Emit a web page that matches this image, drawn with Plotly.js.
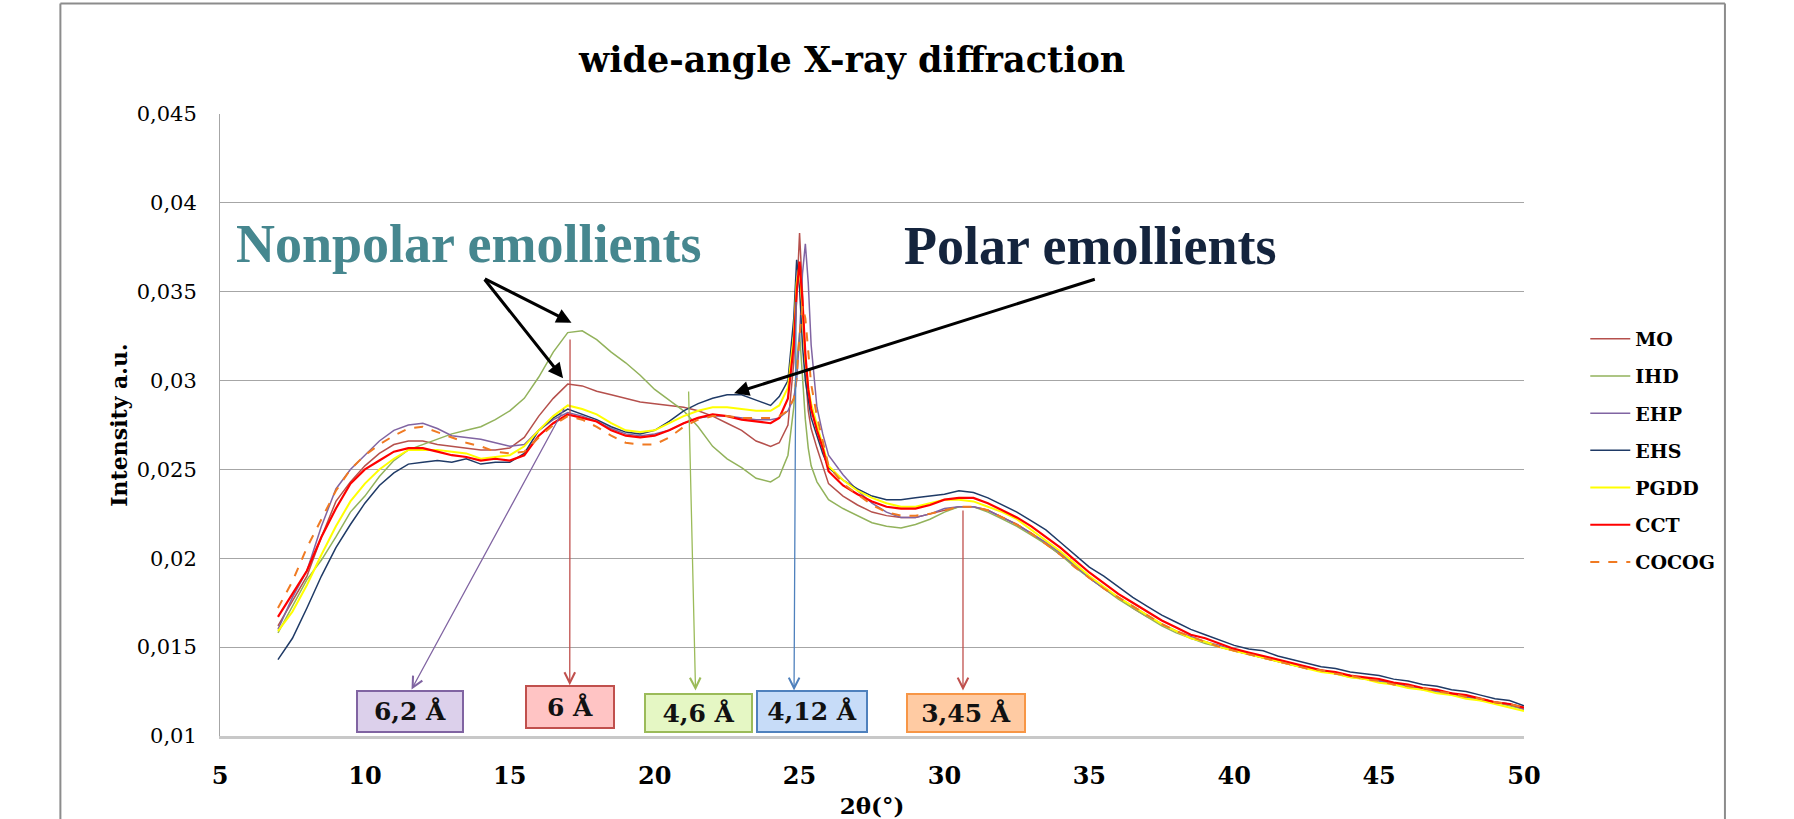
<!DOCTYPE html>
<html>
<head>
<meta charset="utf-8">
<script src="https://cdn.plot.ly/plotly-3.0.1.min.js"></script>
<style>
html,body{margin:0;padding:0;background:#fff;}
#chart{width:1794px;height:819px;}
</style>
</head>
<body>
<div id="chart"></div>
<script>
// 2θ positions (degrees)
const twoTheta = [7,7.5,8,8.5,9,9.5,10,10.5,11,11.5,12,12.5,13,13.5,14,14.5,15,15.5,16,16.5,17,17.5,18,18.5,19,19.5,20,20.5,21,21.5,22,22.5,23,23.5,24,
24.3,24.6,24.8,24.9,25,25.1,25.2,25.3,25.4,25.6,25.8,
26,26.5,27,27.5,28,28.5,29,29.5,30,30.5,31,31.5,32,32.5,33,33.5,34,34.5,35,35.5,36,36.5,37,37.5,38,38.5,39,39.5,40,40.5,41,41.5,42,42.5,43,43.5,44,44.5,45,45.5,46,46.5,47,47.5,48,48.5,49,49.5,50];

const seriesNames = ['MO','IHD','EHP','EHS','PGDD','CCT','COCOG'];

const MO = [0.0162,0.0176,0.0190,0.0212,0.0232,0.0243,0.0252,0.0259,0.0264,0.0266,0.0266,0.0264,0.0263,0.0262,0.0261,0.0261,0.0262,0.0268,0.0280,0.0290,0.0298,0.0297,0.0294,0.0292,0.0290,0.0288,0.0287,0.0286,0.0285,0.0283,0.0280,0.0276,0.0272,0.0266,0.0263,
0.0265,0.0275,0.0310,0.0350,0.0383,0.0350,0.0305,0.0283,0.0273,0.0262,0.0252,
0.0242,0.0235,0.0230,0.0226,0.0224,0.0223,0.0223,0.0225,0.0227,0.0229,0.0229,0.0227,0.0223,0.0219,0.0214,0.0208,0.0202,0.0196,0.0189,0.0183,0.0178,0.0172,0.0167,0.0163,0.0159,0.0155,0.0153,0.0150,0.0148,0.0146,0.0144,0.0142,0.0140,0.0138,0.0137,0.0135,0.0134,0.0132,0.0131,0.0129,0.0128,0.0127,0.0125,0.0124,0.0122,0.0121,0.0119,0.0118,0.0116];

const IHD = [0.0158,0.0173,0.0188,0.0199,0.0212,0.0226,0.0235,0.0246,0.0255,0.0261,0.0264,0.0267,0.0270,0.0272,0.0274,0.0278,0.0283,0.0290,0.0302,0.0316,0.0327,0.0328,0.0323,0.0316,0.0310,0.0303,0.0295,0.0289,0.0283,0.0274,0.0263,0.0256,0.0251,0.0245,0.0243,
0.0246,0.0258,0.0285,0.0310,0.0327,0.0305,0.0278,0.0262,0.0252,0.0243,0.0238,
0.0233,0.0228,0.0224,0.0220,0.0218,0.0217,0.0219,0.0222,0.0226,0.0229,0.0229,0.0226,0.0222,0.0218,0.0213,0.0208,0.0202,0.0195,0.0189,0.0183,0.0177,0.0172,0.0167,0.0162,0.0158,0.0155,0.0152,0.0150,0.0148,0.0146,0.0144,0.0142,0.0140,0.0138,0.0137,0.0135,0.0133,0.0132,0.0131,0.0129,0.0128,0.0126,0.0125,0.0123,0.0122,0.0120,0.0119,0.0117,0.0115];

const EHP = [0.0160,0.0178,0.0193,0.0218,0.0239,0.0250,0.0258,0.0266,0.0272,0.0275,0.0276,0.0273,0.0269,0.0268,0.0267,0.0265,0.0263,0.0264,0.0272,0.0278,0.0282,0.0280,0.0277,0.0273,0.0270,0.0269,0.0270,0.0272,0.0276,0.0279,0.0280,0.0280,0.0279,0.0278,0.0278,
0.0279,0.0283,0.0290,0.0300,0.0325,0.0360,0.0377,0.0355,0.0320,0.0285,0.0270,
0.0258,0.0247,0.0238,0.0231,0.0226,0.0223,0.0223,0.0225,0.0228,0.0229,0.0229,0.0227,0.0223,0.0219,0.0214,0.0209,0.0203,0.0196,0.0189,0.0183,0.0178,0.0173,0.0168,0.0163,0.0159,0.0156,0.0153,0.0151,0.0148,0.0146,0.0144,0.0142,0.0140,0.0139,0.0137,0.0135,0.0134,0.0132,0.0131,0.0130,0.0128,0.0127,0.0125,0.0124,0.0122,0.0121,0.0119,0.0118,0.0115];

const EHS = [0.0143,0.0155,0.0172,0.0190,0.0206,0.0219,0.0231,0.0241,0.0248,0.0253,0.0254,0.0255,0.0254,0.0256,0.0253,0.0254,0.0254,0.0259,0.0272,0.0279,0.0284,0.0281,0.0278,0.0274,0.0271,0.0270,0.0272,0.0277,0.0283,0.0287,0.0290,0.0292,0.0292,0.0289,0.0286,
0.0291,0.0300,0.0335,0.0368,0.0352,0.0320,0.0300,0.0288,0.0279,0.0269,0.0259,
0.0251,0.0244,0.0239,0.0235,0.0233,0.0233,0.0234,0.0235,0.0236,0.0238,0.0237,0.0234,0.0230,0.0226,0.0221,0.0216,0.0209,0.0202,0.0195,0.0190,0.0184,0.0178,0.0173,0.0168,0.0164,0.0160,0.0157,0.0154,0.0151,0.0149,0.0148,0.0145,0.0143,0.0141,0.0139,0.0138,0.0136,0.0135,0.0134,0.0132,0.0131,0.0129,0.0128,0.0126,0.0125,0.0123,0.0121,0.0120,0.0117];

const PGDD = [0.0159,0.0170,0.0185,0.0202,0.0218,0.0232,0.0242,0.0250,0.0256,0.0261,0.0261,0.0261,0.0260,0.0259,0.0256,0.0257,0.0258,0.0263,0.0272,0.0280,0.0286,0.0284,0.0281,0.0276,0.0272,0.0271,0.0272,0.0276,0.0280,0.0283,0.0285,0.0285,0.0284,0.0283,0.0283,
0.0286,0.0296,0.0325,0.0355,0.0365,0.0340,0.0312,0.0296,0.0287,0.0275,0.0264,
0.0252,0.0244,0.0238,0.0234,0.0231,0.0229,0.0229,0.0231,0.0233,0.0233,0.0232,0.0229,0.0226,0.0222,0.0216,0.0210,0.0204,0.0197,0.0190,0.0184,0.0178,0.0173,0.0168,0.0163,0.0159,0.0155,0.0153,0.0150,0.0148,0.0146,0.0144,0.0142,0.0140,0.0138,0.0136,0.0135,0.0133,0.0132,0.0130,0.0129,0.0127,0.0126,0.0124,0.0123,0.0121,0.0120,0.0118,0.0116,0.0114];

const CCT = [0.0167,0.0180,0.0193,0.0212,0.0228,0.0242,0.0250,0.0255,0.0260,0.0262,0.0262,0.0260,0.0258,0.0257,0.0255,0.0256,0.0255,0.0258,0.0269,0.0276,0.0281,0.0279,0.0277,0.0272,0.0269,0.0268,0.0269,0.0272,0.0276,0.0279,0.0281,0.0280,0.0278,0.0277,0.0276,
0.0279,0.0290,0.0320,0.0350,0.0367,0.0345,0.0315,0.0295,0.0284,0.0272,0.0262,
0.0249,0.0241,0.0236,0.0232,0.0229,0.0228,0.0228,0.0230,0.0233,0.0234,0.0234,0.0231,0.0227,0.0223,0.0218,0.0212,0.0206,0.0199,0.0192,0.0186,0.0180,0.0175,0.0170,0.0165,0.0161,0.0157,0.0155,0.0152,0.0149,0.0147,0.0145,0.0143,0.0141,0.0139,0.0137,0.0136,0.0134,0.0133,0.0132,0.0130,0.0129,0.0127,0.0126,0.0124,0.0123,0.0121,0.0119,0.0118,0.0116];

const COCOG = [0.0172,0.0187,0.0206,0.0222,0.0238,0.0250,0.0258,0.0264,0.0269,0.0273,0.0274,0.0271,0.0268,0.0265,0.0263,0.0260,0.0259,0.0260,0.0268,0.0275,0.0280,0.0278,0.0274,0.0269,0.0265,0.0264,0.0264,0.0268,0.0274,0.0278,0.0280,0.0280,0.0279,0.0279,0.0279,
0.0280,0.0283,0.0290,0.0302,0.0325,0.0342,0.0335,0.0315,0.0298,0.0280,0.0266,
0.0252,0.0242,0.0236,0.0230,0.0226,0.0224,0.0224,0.0225,0.0227,0.0229,0.0229,0.0227,0.0223,0.0219,0.0214,0.0208,0.0202,0.0195,0.0189,0.0183,0.0178,0.0173,0.0168,0.0163,0.0159,0.0156,0.0153,0.0150,0.0148,0.0146,0.0144,0.0142,0.0140,0.0138,0.0137,0.0135,0.0134,0.0132,0.0131,0.0129,0.0128,0.0127,0.0125,0.0124,0.0122,0.0121,0.0119,0.0118,0.0116];

const seriesValues = [MO, IHD, EHP, EHS, PGDD, CCT, COCOG];

// d-spacing labels
const spacingLabels = ['6,2 Å','6 Å','4,6 Å','4,12 Å','3,45 Å'];

const xTickVals = [5,10,15,20,25,30,35,40,45,50];
const yTickVals = [0.01,0.015,0.02,0.025,0.03,0.035,0.04,0.045];

// ---------- styling ----------
const colors = ['#B5504C','#92B25B','#8064A2','#1F3A66','#FFFF00','#FF0000','#F07A22'];
const widths = [1.5,1.5,1.5,1.5,2,2.2,2];
const dashes = ['solid','solid','solid','solid','solid','solid','dash'];
const SERIF = 'DejaVu Serif';

const traces = seriesNames.map((n,i)=>({
  type:'scatter', mode:'lines', name:n, x:twoTheta, y:seriesValues[i],
  legendgroup:'g'+i,
  line:{color:colors[i], width:widths[i], dash:dashes[i]},
  hoverinfo:'skip'
}));

// boxes: [label index, center x, center y, w, h, fill, border]
const boxes = [
  [0, 11.57, 0.011357, 106, 41, '#DCD0EB', '#8064A2'],
  [1, 17.09, 0.011611, 88, 42, '#FFC4C4', '#C0504D'],
  [2, 21.52, 0.011272, 107, 38, '#E5F7C4', '#9BBB59'],
  [3, 25.43, 0.011357, 110, 41, '#C7DCF8', '#4F81BD'],
  [4, 30.75, 0.011272, 118, 38, '#FFCBA3', '#F79646']
];
const annotations = [];
boxes.forEach(b=>{
  annotations.push({
    x:b[1], y:b[2], xref:'x', yref:'y', showarrow:false,
    text:'<b>'+spacingLabels[b[0]]+'</b>', width:b[3]-2, height:b[4]-2,
    bgcolor:b[5], bordercolor:b[6], borderwidth:2, borderpad:0,
    align:'center', valign:'middle',
    font:{family:SERIF, size:25, color:'#111'}
  });
});
// thin pointer arrows: [tail x, tail y, head x, head y, color]
const pointers = [
  [16.9, 0.0285, 11.61, 0.01262, '#8064A2'],
  [17.08, 0.0324, 17.07, 0.01286, '#C0504D'],
  [21.17, 0.02947, 21.41, 0.01256, '#9BBB59'],
  [24.88, 0.0345, 24.81, 0.01256, '#4F81BD'],
  [30.64, 0.02277, 30.64, 0.01256, '#C0504D']
];
pointers.forEach(p=>{
  annotations.push({
    x:p[2], y:p[3], ax:p[0], ay:p[1], xref:'x', yref:'y', axref:'x', ayref:'y',
    text:'', showarrow:true, arrowhead:5, arrowsize:1.6, arrowwidth:1.3, arrowcolor:p[4]
  });
});
// group labels
annotations.push({x:13.59, y:0.0377, xref:'x', yref:'y', showarrow:false,
  text:'<b>Nonpolar emollients</b>', font:{family:'Liberation Serif', size:54, color:'#46878F'}});
annotations.push({x:35.01, y:0.03758, xref:'x', yref:'y', showarrow:false,
  text:'<b>Polar emollients</b>', font:{family:'Liberation Serif', size:54, color:'#14243D'}});
// black arrows
const blackArrows = [
  [14.09, 0.03577, 17.13, 0.03326],
  [14.09, 0.03577, 16.84, 0.03013],
  [35.24, 0.03573, 22.74, 0.02929]
];
blackArrows.forEach(a=>{
  annotations.push({x:a[2], y:a[3], ax:a[0], ay:a[1], xref:'x', yref:'y', axref:'x', ayref:'y',
    text:'', showarrow:true, arrowhead:2, arrowsize:1, arrowwidth:3, arrowcolor:'#000'});
});

const layout = {
  width:1794, height:819,
  margin:{l:220, r:270, t:114, b:83},
  paper_bgcolor:'#fff', plot_bgcolor:'#fff',
  separators:',.',
  showlegend:true,
  title:{text:'<b>wide-angle X-ray diffraction</b>', x:0.475, xref:'container', xanchor:'center',
    y:0.927, yref:'container', yanchor:'middle', font:{family:SERIF, size:35, color:'#000'}},
  xaxis:{range:[5,50], tickvals:xTickVals, showgrid:false, zeroline:false,
    showline:true, linecolor:'#C8C8C8', linewidth:3, ticks:'', ticklabelstandoff:16,
    tickfont:{family:SERIF, size:24, color:'#000', weight:'bold'},
    title:{text:'<b>2θ(°)</b>', font:{family:SERIF, size:23, color:'#000'}, standoff:10}},
  yaxis:{range:[0.01,0.045], tickvals:yTickVals, showgrid:true, gridcolor:'#A6A6A6', gridwidth:1,
    zeroline:false, showline:true, linecolor:'#A6A6A6', linewidth:1, ticks:'', ticklabelstandoff:18,
    tickfont:{family:SERIF, size:21, color:'#000'},
    title:{text:'<b>Intensity a.u.</b>', font:{family:SERIF, size:22, color:'#000'}, standoff:2}},
  legend:{x:1.047, xanchor:'left', y:0.669, yanchor:'top', itemwidth:40, tracegroupgap:9.5,
    font:{family:SERIF, size:19, color:'#000', weight:'bold'}, bgcolor:'rgba(0,0,0,0)'},
  shapes:[
    {type:'line', xref:'paper', yref:'paper', x0:-0.1224, x1:1.1541, y0:1.1775, y1:1.1775, line:{color:'#8C8C8C', width:2}},
    {type:'line', xref:'paper', yref:'paper', x0:-0.1224, x1:-0.1224, y0:1.1775, y1:-0.16, line:{color:'#8C8C8C', width:2}},
    {type:'line', xref:'paper', yref:'paper', x0:1.1541, x1:1.1541, y0:1.1775, y1:-0.16, line:{color:'#8C8C8C', width:2}}
  ],
  annotations:annotations
};

Plotly.newPlot('chart', traces, layout, {displayModeBar:false, staticPlot:true});
</script>
</body>
</html>
